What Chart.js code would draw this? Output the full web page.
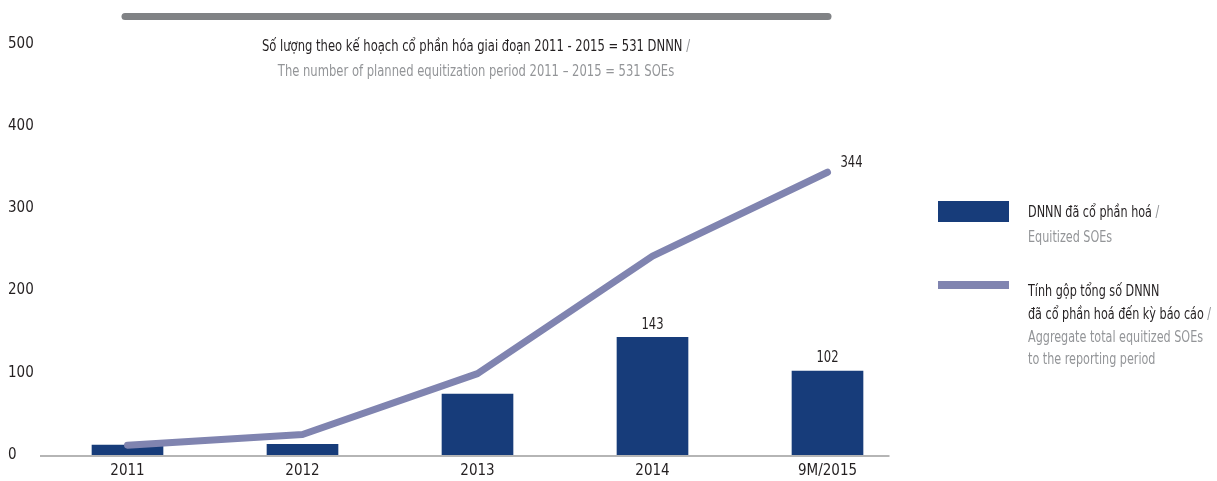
<!DOCTYPE html>
<html><head><meta charset="utf-8">
<script src="https://cdn.jsdelivr.net/npm/chart.js@4"></script>
<style>
html,body{margin:0;padding:0;background:#fff;}
#wrap{width:1217px;height:481px;position:relative;}
</style></head>
<body><div id="wrap"><canvas id="c" width="1217" height="481"></canvas></div>
<script>
const categories = ['2011', '2012', '2013', '2014', '9M/2015'];
const equitizedSOEs = [12, 13, 74, 143, 102];
const cumulativeSOEs = [12, 25, 99, 242, 344];
const yTicks = [0, 100, 200, 300, 400, 500];
const barLabelShown = [false, false, false, true, true];
const lineLabelShown = [false, false, false, false, true];
const titleLine1 = 'Số lượng theo kế hoạch cổ phần hóa giai đoạn 2011 - 2015 = 531 DNNN';
const titleLine2 = 'The number of planned equitization period 2011 – 2015 = 531 SOEs';
const legendBar = ['DNNN đã cổ phần hoá', 'Equitized SOEs'];
const legendLine = ['Tính gộp tổng số DNNN', 'đã cổ phần hoá đến kỳ báo cáo', 'Aggregate total equitized SOEs', 'to the reporting period'];

const FONT = "'Liberation Sans Narrow','DejaVu Sans Condensed','Roboto Condensed',sans-serif";
const DARK = '#231f20', GREY = '#939598';
const BAR = '#173c7a', LINE = '#8084b0';
const SX = 0.83;

Chart.defaults.font.family = FONT;
Chart.defaults.font.size = 15;
Chart.defaults.color = DARK;

function txt(ctx, s, x, y, align) {
  ctx.save();
  ctx.translate(x, y);
  ctx.scale(SX, 1);
  ctx.textAlign = align || 'left';
  ctx.fillText(s, 0, 0);
  ctx.restore();
}
function tw(ctx, s) { return ctx.measureText(s).width * SX; }

const deco = {
  id: 'deco',
  beforeDatasetsDraw(chart) {
    const {ctx, chartArea, scales} = chart;
    const x = scales.x, y = scales.y;
    ctx.save();
    ctx.strokeStyle = '#b5b5b5';
    ctx.lineWidth = 2;
    ctx.beginPath();
    const y0 = y.getPixelForValue(0) + 1;
    ctx.moveTo(chartArea.left, y0);
    ctx.lineTo(x.getPixelForValue(categories.length - 1) + 62, y0);
    ctx.stroke();
    ctx.restore();
  },
  afterDraw(chart) {
    const {ctx, scales} = chart;
    const x = scales.x, y = scales.y;
    ctx.save();
    ctx.strokeStyle = '#808285';
    ctx.lineWidth = 7;
    ctx.lineCap = 'round';
    ctx.beginPath();
    ctx.moveTo(125, 16.5);
    ctx.lineTo(828, 16.5);
    ctx.stroke();
    ctx.font = '15.5px ' + FONT;
    ctx.textBaseline = 'middle';
    const cx = 476;
    const w1 = tw(ctx, titleLine1 + ' /');
    ctx.fillStyle = DARK;
    txt(ctx, titleLine1, cx - w1 / 2, 47);
    ctx.fillStyle = GREY;
    txt(ctx, ' /', cx - w1 / 2 + tw(ctx, titleLine1), 47);
    txt(ctx, titleLine2, cx, 72, 'center');
    ctx.fillStyle = DARK;
    ctx.textBaseline = 'bottom';
    equitizedSOEs.forEach((v, i) => {
      if (barLabelShown[i]) txt(ctx, String(v), x.getPixelForValue(i), y.getPixelForValue(v) - 5, 'center');
    });
    ctx.textBaseline = 'middle';
    cumulativeSOEs.forEach((v, i) => {
      if (lineLabelShown[i]) txt(ctx, String(v), x.getPixelForValue(i) + 13, y.getPixelForValue(v) - 9);
    });
    const lx = 938, tx = 1028;
    ctx.fillStyle = BAR;
    ctx.fillRect(lx, 201, 71, 21);
    ctx.fillStyle = LINE;
    ctx.fillRect(lx, 281, 71, 8);
    ctx.font = '15px ' + FONT;
    ctx.fillStyle = DARK;
    txt(ctx, legendBar[0], tx, 213);
    ctx.fillStyle = GREY;
    txt(ctx, ' /', tx + tw(ctx, legendBar[0]), 213);
    txt(ctx, legendBar[1], tx, 238);
    ctx.fillStyle = DARK;
    txt(ctx, legendLine[0], tx, 292);
    txt(ctx, legendLine[1], tx, 315);
    ctx.fillStyle = GREY;
    txt(ctx, ' /', tx + tw(ctx, legendLine[1]), 315);
    txt(ctx, legendLine[2], tx, 338);
    txt(ctx, legendLine[3], tx, 360);
    ctx.restore();
  }
};

new Chart(document.getElementById('c'), {
  data: {
    labels: categories,
    datasets: [
      {
        type: 'line',
        label: legendLine.join(' '),
        data: cumulativeSOEs,
        borderColor: LINE,
        backgroundColor: LINE,
        borderWidth: 7,
        pointRadius: 0,
        pointHoverRadius: 0,
        tension: 0,
        borderCapStyle: 'round',
        borderJoinStyle: 'round',
        order: 0
      },
      {
        type: 'bar',
        label: legendBar.join(' '),
        data: equitizedSOEs,
        backgroundColor: BAR,
        barThickness: 71,
        order: 1
      }
    ]
  },
  options: {
    responsive: false,
    animation: false,
    events: [],
    layout: { padding: { left: 8, right: 302, top: 44, bottom: 0 } },
    plugins: { legend: { display: false }, tooltip: { enabled: false }, title: { display: false } },
    scales: {
      x: {
        offset: true,
        grid: { display: false, drawTicks: false },
        border: { display: false },
        ticks: { padding: 7, color: DARK, font: { size: 15 } },
        afterFit(s) { s.height = 26; }
      },
      y: {
        min: 0, max: 500,
        afterBuildTicks(s) { s.ticks = yTicks.map(v => ({ value: v })); },
        grid: { display: false, drawTicks: false },
        border: { display: false },
        ticks: { crossAlign: 'far', color: DARK, font: { size: 15 } },
        afterFit(s) { s.width = 32; }
      }
    }
  },
  plugins: [deco]
});
</script></body></html>
